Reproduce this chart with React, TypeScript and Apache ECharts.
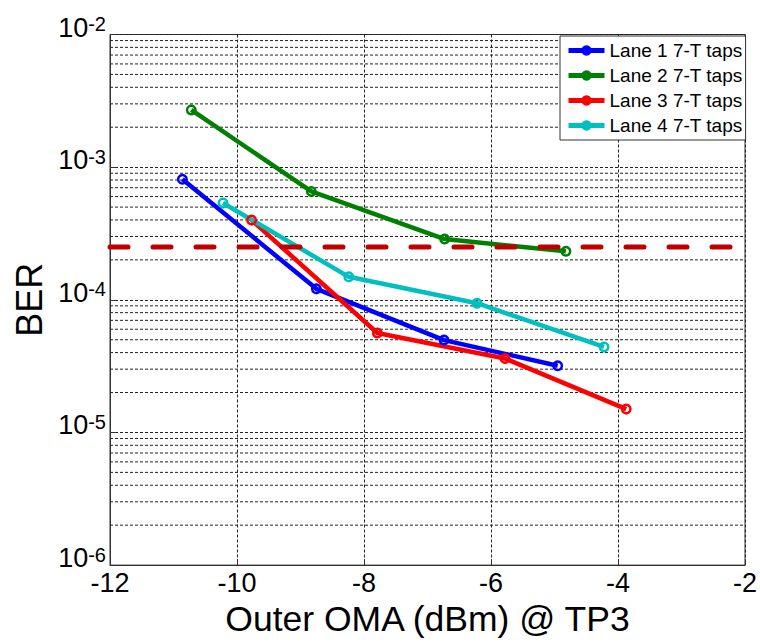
import React, { useEffect, useRef } from 'react';
import * as echarts from 'echarts';

const FONT = 'Arial, "Liberation Sans", Helvetica, sans-serif';

const laneNames = ['Lane 1 7-T taps', 'Lane 2 7-T taps', 'Lane 3 7-T taps', 'Lane 4 7-T taps'];
const laneColors = ['#0000FF', '#008000', '#FF0000', '#00BFBF'];

const lane1X = [-10.86, -8.75, -6.74, -4.95];
const lane1Y = [8.1e-4, 1.21e-4, 4.97e-5, 3.18e-5];
const lane2X = [-10.72, -8.83, -6.73, -4.82];
const lane2Y = [2.7e-3, 6.56e-4, 2.87e-4, 2.32e-4];
const lane3X = [-9.77, -7.79, -5.78, -3.87];
const lane3Y = [3.99e-4, 5.62e-5, 3.61e-5, 1.5e-5];
const lane4X = [-10.22, -8.24, -6.22, -4.22];
const lane4Y = [5.37e-4, 1.49e-4, 9.42e-5, 4.41e-5];

const thresholdBER = 2.5e-4;

const xMin = -12;
const xMax = -2;
const xStep = 2;
const yMin = 1e-6;
const yMax = 1e-2;
const decadeExponents = [-6, -5, -4, -3];
const minorMultipliers = [2, 3, 4, 5, 6, 7, 8, 9];

const laneXs = [lane1X, lane2X, lane3X, lane4X];
const laneYs = [lane1Y, lane2Y, lane3Y, lane4Y];

export default function App() {
  const ref = useRef<HTMLDivElement>(null);
  useEffect(() => {
    const chart = echarts.init(ref.current!, null, { renderer: 'svg' });
    const gridStyle = { color: '#222', width: 1, type: [3, 2] as any };

    const minorValues: number[] = [];
    decadeExponents.forEach((e) => minorMultipliers.forEach((k) => minorValues.push(k * Math.pow(10, e))));

    const minorSeries = minorValues.map((v, i) => ({
      name: '__minor' + i,
      type: 'line',
      z: 1,
      silent: true,
      symbol: 'none',
      showSymbol: false,
      data: [[xMin, v], [xMax, v]],
      lineStyle: gridStyle,
      emphasis: { disabled: true },
      tooltip: { show: false },
    }));

    const laneSeries = laneNames.map((name, i) => ({
      name,
      type: 'line',
      z: 3,
      data: laneXs[i].map((x, j) => [x, laneYs[i][j]]),
      symbol: 'circle',
      symbolSize: 8.5,
      showSymbol: true,
      lineStyle: { color: laneColors[i], width: 4.5 },
      itemStyle: { color: 'rgba(0,0,0,0)', borderColor: laneColors[i], borderWidth: 2.5 },
      emphasis: { disabled: true },
    }));

    const thresholdSeries = {
      name: '__threshold',
      type: 'line',
      z: 4,
      silent: true,
      symbol: 'none',
      showSymbol: false,
      data: [[xMin, thresholdBER], [xMax, thresholdBER]],
      lineStyle: { color: '#C00000', width: 5, type: [18, 25] as any, cap: 'round' },
      emphasis: { disabled: true },
    };

    chart.setOption({
      animation: false,
      backgroundColor: '#ffffff',
      textStyle: { fontFamily: FONT },
      grid: {
        left: 110,
        top: 31,
        width: 642,
        height: 538,
        show: true,
        borderColor: '#333',
        borderWidth: 1,
        backgroundColor: 'transparent',
      },
      legend: {
        left: 560,
        top: 36,
        orient: 'vertical',
        backgroundColor: '#fff',
        borderColor: '#333',
        borderWidth: 1,
        borderRadius: 0,
        padding: [5, 3, 5, 6],
        itemWidth: 36,
        itemHeight: 13,
        itemGap: 6,
        z: 10,
        textStyle: { fontFamily: FONT, fontSize: 19, lineHeight: 19, color: '#000' },
        data: laneNames.map((name, i) => ({
          name,
          itemStyle: { color: laneColors[i], borderColor: laneColors[i], borderWidth: 0 },
          lineStyle: { color: laneColors[i], width: 5 },
        })),
      },
      xAxis: {
        type: 'value',
        min: xMin,
        max: xMax,
        interval: xStep,
        name: 'Outer OMA (dBm) @ TP3',
        nameLocation: 'middle',
        nameGap: 34,
        nameTextStyle: { fontFamily: FONT, fontSize: 35.5, color: '#000' },
        axisLine: { show: true, lineStyle: { color: '#333', width: 1 } },
        axisTick: { show: true, inside: true, length: 6, lineStyle: { color: '#333' } },
        axisLabel: { fontFamily: FONT, fontSize: 27, color: '#000', margin: 4 },
        splitLine: { show: true, lineStyle: gridStyle },
      },
      yAxis: {
        type: 'log',
        logBase: 10,
        min: yMin,
        max: yMax,
        name: 'BER',
        nameLocation: 'middle',
        nameGap: 62,
        nameTextStyle: { fontFamily: FONT, fontSize: 36, color: '#000' },
        axisLine: { show: true, lineStyle: { color: '#333', width: 1 } },
        axisTick: { show: true, inside: true, length: 6, lineStyle: { color: '#333' } },
        axisLabel: {
          margin: 4,
          padding: [0, 0, 14, 0],
          formatter: (v: number) => `{b|10}{s|${Math.round(Math.log10(v))}}`,
          rich: {
            b: { fontFamily: FONT, fontSize: 27, lineHeight: 27, color: '#000', verticalAlign: 'bottom', padding: [14, 0, 0, 0] },
            s: { fontFamily: FONT, fontSize: 20, lineHeight: 20, color: '#000', verticalAlign: 'top' },
          },
        },
        splitLine: { show: true, lineStyle: gridStyle },
      },
      series: [...minorSeries, ...laneSeries, thresholdSeries],
    });
    return () => chart.dispose();
  }, []);
  return (
    <div
      ref={ref}
      style={{ position: 'fixed', left: 0, top: 0, width: 760, height: 642, background: '#fff' }}
    />
  );
}
